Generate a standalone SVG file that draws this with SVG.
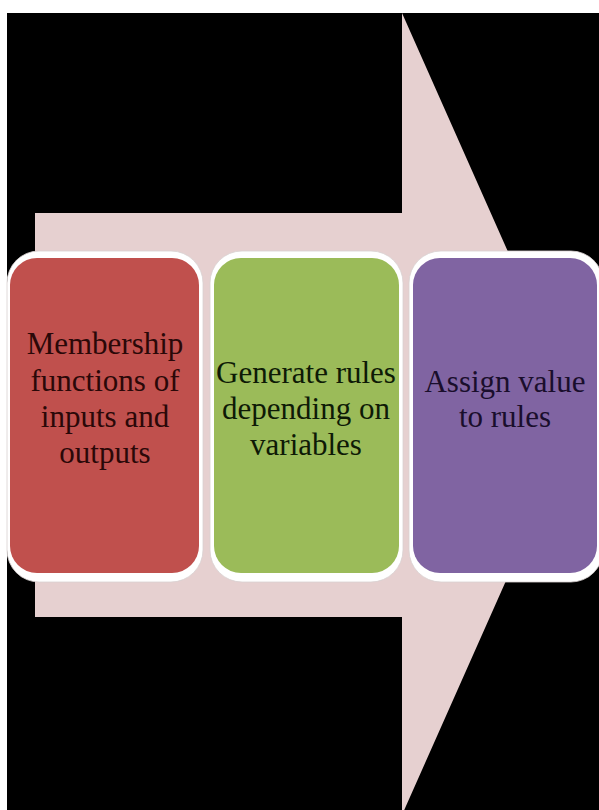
<svg xmlns="http://www.w3.org/2000/svg" width="599" height="810" viewBox="0 0 599 810">
<style>
.outer{fill:#ffffff;stroke:#d8d0d0;stroke-width:0.8}
.lbl{font-family:"Liberation Serif","Times New Roman",serif;font-size:31px;text-anchor:middle}
</style>
<rect x="0" y="0" width="599" height="810" fill="#ffffff"/>
<rect x="7" y="13" width="592" height="797" fill="#000000"/>
<g id="arrow">
<polygon points="35,213 402,213 402,13 580,414 402,815 402,617 35,617" fill="#e6d0d0"/>
</g>
<g id="connectors"></g>
<g id="node1">
<rect class="outer" x="7" y="251" width="196" height="331" rx="32"/>
<rect x="10" y="258" width="189" height="315" rx="27" fill="#c0504d"/>
<text class="lbl" fill="#2a0808"><tspan x="105" y="354">Membership</tspan><tspan x="105" y="391">functions of</tspan><tspan x="105" y="427">inputs and</tspan><tspan x="105" y="463">outputs</tspan></text>
</g>
<g id="node2">
<rect class="outer" x="210" y="251" width="193" height="331" rx="32"/>
<rect x="214" y="258" width="185" height="315" rx="27" fill="#9bbb59"/>
<text class="lbl" fill="#0e1a06"><tspan x="306" y="383">Generate rules</tspan><tspan x="306" y="419">depending on</tspan><tspan x="306" y="455">variables</tspan></text>
</g>
<g id="node3">
<rect class="outer" x="409" y="251" width="194" height="331" rx="32"/>
<rect x="413" y="258" width="184" height="315" rx="27" fill="#8064a2"/>
<text class="lbl" fill="#1a0e2c"><tspan x="505" y="392">Assign value</tspan><tspan x="505" y="427">to rules</tspan></text>
</g>
</svg>
